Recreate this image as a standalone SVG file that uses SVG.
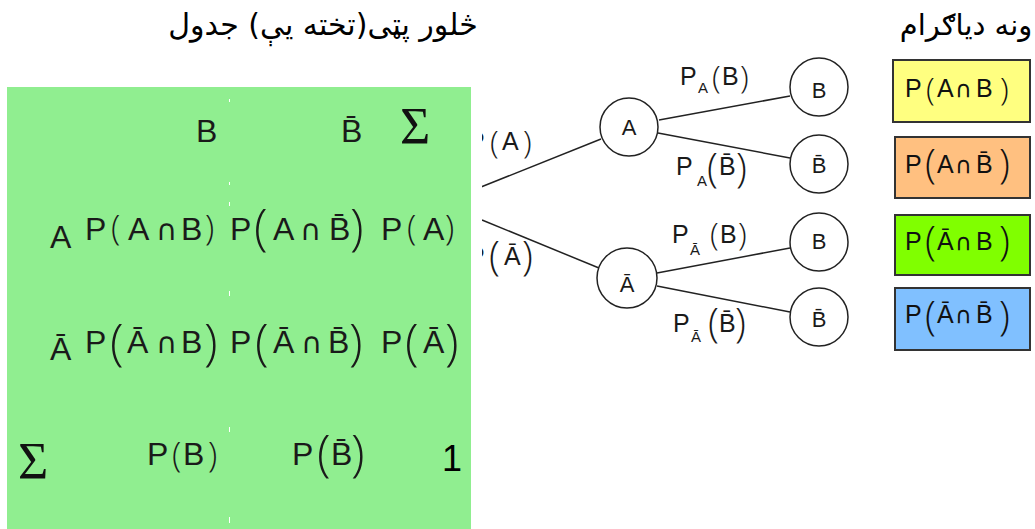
<svg xmlns="http://www.w3.org/2000/svg" width="1035" height="529" viewBox="0 0 1035 529">
<style>
.t{font-family:"Liberation Sans",Arial,sans-serif;fill:#1a1a1a}
.tbl{font-size:32px}
.pr{font-family:"Open Sans","Liberation Sans",sans-serif;font-weight:300;font-size:34px}
.tp{font-family:"Open Sans","Liberation Sans",sans-serif;font-weight:300;font-size:50px}
.cap{font-family:"DejaVu Sans",sans-serif;font-size:29px}
.lb{font-size:25px}
.sb{font-size:15px}
.pp{font-family:"Open Sans","Liberation Sans",sans-serif;font-weight:300;font-size:32px}
.pt{font-family:"Open Sans","Liberation Sans",sans-serif;font-weight:300;font-size:40px}
.bx{font-size:25px;fill:#111}
.bcap{font-family:"DejaVu Sans",sans-serif;font-size:23px}
.sig{font-family:"Liberation Serif","Times New Roman",serif;font-size:52px;fill:#111}
.ar{font-family:"DejaVu Sans","Noto Sans",sans-serif;fill:#000}
.nd{fill:#fff;stroke:#222;stroke-width:1.5}
.ln{stroke:#222;stroke-width:1.5;fill:none}
.ndt{font-family:"Liberation Sans",Arial,sans-serif;font-size:22px;fill:#1a1a1a;text-anchor:middle}
.box{stroke:#333;stroke-width:2}
</style>
<rect width="1035" height="529" fill="#fff"/>
<g id="titles">
<text class="ar" x="323" y="35" text-anchor="middle" style="font-size:30px">څلور پټی(تخته يې) جدول</text>
<text class="ar" x="966" y="35" text-anchor="middle" style="font-size:29px">ونه دیاګرام</text>
</g>
<g id="connectors">
<line class="ln" x1="481" y1="187" x2="601" y2="139"/>
<line class="ln" x1="659" y1="120" x2="790" y2="96"/>
<line class="ln" x1="658" y1="133" x2="790" y2="158"/>
<line class="ln" x1="482" y1="220" x2="599" y2="268"/>
<line class="ln" x1="657" y1="273" x2="790" y2="248"/>
<line class="ln" x1="657" y1="286" x2="790" y2="312"/>
<text class="t lb" y="150"><tspan x="468">P</tspan><tspan class="pp" x="490" dy="3">(</tspan><tspan x="502" dy="-3">A</tspan><tspan class="pp" x="523" dy="3">)</tspan></text>
<text class="t lb" y="265"><tspan x="468">P</tspan><tspan class="pt" x="489" dy="5">(</tspan><tspan x="504" dy="-5">Ā</tspan><tspan class="pt" x="522" dy="5">)</tspan></text>
<rect x="471" y="120" width="11" height="160" fill="#fff"/>
<text class="t lb" y="85"><tspan x="680">P</tspan><tspan class="sb" x="698" dy="8">A</tspan><tspan class="pp" x="712" dy="-5">(</tspan><tspan x="722" dy="-3">B</tspan><tspan class="pp" x="740" dy="3">)</tspan></text>
<text class="t lb" y="175"><tspan x="676">P</tspan><tspan class="sb" x="697" dy="11">A</tspan><tspan class="pt" x="707" dy="-4">(</tspan><tspan x="719" dy="-7">B̄</tspan><tspan class="pt" x="736" dy="7">)</tspan></text>
<text class="t lb" y="243"><tspan x="672">P</tspan><tspan class="sb" x="690" dy="12">Ā</tspan><tspan class="pp" x="710" dy="-10">(</tspan><tspan x="720" dy="-2">B</tspan><tspan class="pp" x="738" dy="2">)</tspan></text>
<text class="t lb" y="332"><tspan x="673">P</tspan><tspan class="sb" x="691" dy="10">Ā</tspan><tspan class="pt" x="708" dy="-5">(</tspan><tspan x="719" dy="-5">B̄</tspan><tspan class="pt" x="735" dy="5">)</tspan></text>
</g>
<g id="node-A"><circle class="nd" cx="629" cy="127" r="29"/><text class="ndt" x="629" y="135">A</text></g>
<g id="node-A-B"><circle class="nd" cx="819" cy="87" r="29"/><text class="ndt" x="819" y="98">B</text></g>
<g id="node-A-notB"><circle class="nd" cx="819" cy="164" r="29"/><text class="ndt" x="819" y="173">B̄</text></g>
<g id="node-notA"><circle class="nd" cx="627" cy="278" r="30"/><text class="ndt" x="627" y="292">Ā</text></g>
<g id="node-notA-B"><circle class="nd" cx="819" cy="242" r="29"/><text class="ndt" x="819" y="249">B</text></g>
<g id="node-notA-notB"><circle class="nd" cx="819" cy="317" r="29"/><text class="ndt" x="819" y="327">B̄</text></g>
<g id="table">
<rect x="7" y="87" width="464" height="442" fill="#90ee90"/>
<g stroke="#fff" stroke-width="1">
<line x1="229.5" y1="99" x2="229.5" y2="102"/><line x1="229.5" y1="182" x2="229.5" y2="185"/><line x1="229.5" y1="202" x2="229.5" y2="206"/><line x1="229.5" y1="291" x2="229.5" y2="296"/><line x1="229.5" y1="427" x2="229.5" y2="432"/><line x1="229.5" y1="517" x2="229.5" y2="523"/>
</g>
<text class="t tbl" x="196" y="142">B</text>
<text class="t tbl" x="341" y="142">B̄</text>
<text class="sig" x="400" y="144">Σ</text>
<text class="t tbl" x="50" y="248">A</text>
<text class="t tbl" y="240"><tspan x="85">P</tspan><tspan class="pr" x="111">(</tspan><tspan x="128">A</tspan><tspan class="cap" x="156">∩</tspan><tspan x="181">B</tspan><tspan class="pr" x="205">)</tspan></text>
<text class="t tbl" y="240"><tspan x="230">P</tspan><tspan class="tp" x="254" dy="5">(</tspan><tspan x="273" dy="-5">A</tspan><tspan class="cap" x="300">∩</tspan><tspan x="329">B̄</tspan><tspan class="tp" x="350" dy="5">)</tspan></text>
<text class="t tbl" y="240"><tspan x="381">P</tspan><tspan class="pr" x="407">(</tspan><tspan x="423">A</tspan><tspan class="pr" x="445">)</tspan></text>
<text class="t tbl" x="50" y="360">Ā</text>
<text class="t tbl" y="353"><tspan x="85">P</tspan><tspan class="tp" x="110" dy="7">(</tspan><tspan x="127" dy="-7">Ā</tspan><tspan class="cap" x="156">∩</tspan><tspan x="181">B</tspan><tspan class="tp" x="204" dy="7">)</tspan></text>
<text class="t tbl" y="353"><tspan x="230">P</tspan><tspan class="tp" x="255" dy="7">(</tspan><tspan x="273" dy="-7">Ā</tspan><tspan class="cap" x="301">∩</tspan><tspan x="328">B̄</tspan><tspan class="tp" x="349" dy="7">)</tspan></text>
<text class="t tbl" y="353"><tspan x="381">P</tspan><tspan class="tp" x="405" dy="7">(</tspan><tspan x="423" dy="-7">Ā</tspan><tspan class="tp" x="445" dy="7">)</tspan></text>
<text class="sig" x="18" y="479">Σ</text>
<text class="t tbl" y="465"><tspan x="147">P</tspan><tspan class="pr" x="172" dy="2">(</tspan><tspan x="183" dy="-2">B</tspan><tspan class="pr" x="208" dy="2">)</tspan></text>
<text class="t tbl" y="465"><tspan x="292">P</tspan><tspan class="tp" x="317" dy="6">(</tspan><tspan x="331" dy="-6">B̄</tspan><tspan class="tp" x="351" dy="6">)</tspan></text>
<text class="t" x="442" y="471" style="font-size:36px;fill:#000">1</text>
</g>
<g id="legend-AB"><rect class="box" x="893" y="60" width="137" height="62" fill="#ffff80"/>
<text class="t bx" y="97"><tspan x="905">P</tspan><tspan class="pp" x="926" dy="3">(</tspan><tspan x="937" dy="-3">A</tspan><tspan class="bcap" x="955">∩</tspan><tspan x="976">B</tspan><tspan class="pp" x="1000" dy="3">)</tspan></text></g>
<g id="legend-AnotB"><rect class="box" x="895" y="137" width="135" height="61" fill="#ffc080"/>
<text class="t bx" y="173"><tspan x="905">P</tspan><tspan class="pt" x="925" dy="5">(</tspan><tspan x="937" dy="-5">A</tspan><tspan class="bcap" x="955">∩</tspan><tspan x="976">B̄</tspan><tspan class="pt" x="999" dy="5">)</tspan></text></g>
<g id="legend-notAB"><rect class="box" x="895" y="215" width="135" height="60" fill="#80ff00"/>
<text class="t bx" y="250"><tspan x="905">P</tspan><tspan class="pt" x="925" dy="5">(</tspan><tspan x="937" dy="-5">Ā</tspan><tspan class="bcap" x="955">∩</tspan><tspan x="976">B</tspan><tspan class="pt" x="999" dy="5">)</tspan></text></g>
<g id="legend-notAnotB"><rect class="box" x="895" y="288" width="135" height="62" fill="#80c0ff"/>
<text class="t bx" y="323"><tspan x="905">P</tspan><tspan class="pt" x="925" dy="7">(</tspan><tspan x="937" dy="-7">Ā</tspan><tspan class="bcap" x="955">∩</tspan><tspan x="976">B̄</tspan><tspan class="pt" x="999" dy="7">)</tspan></text></g>
</svg>
